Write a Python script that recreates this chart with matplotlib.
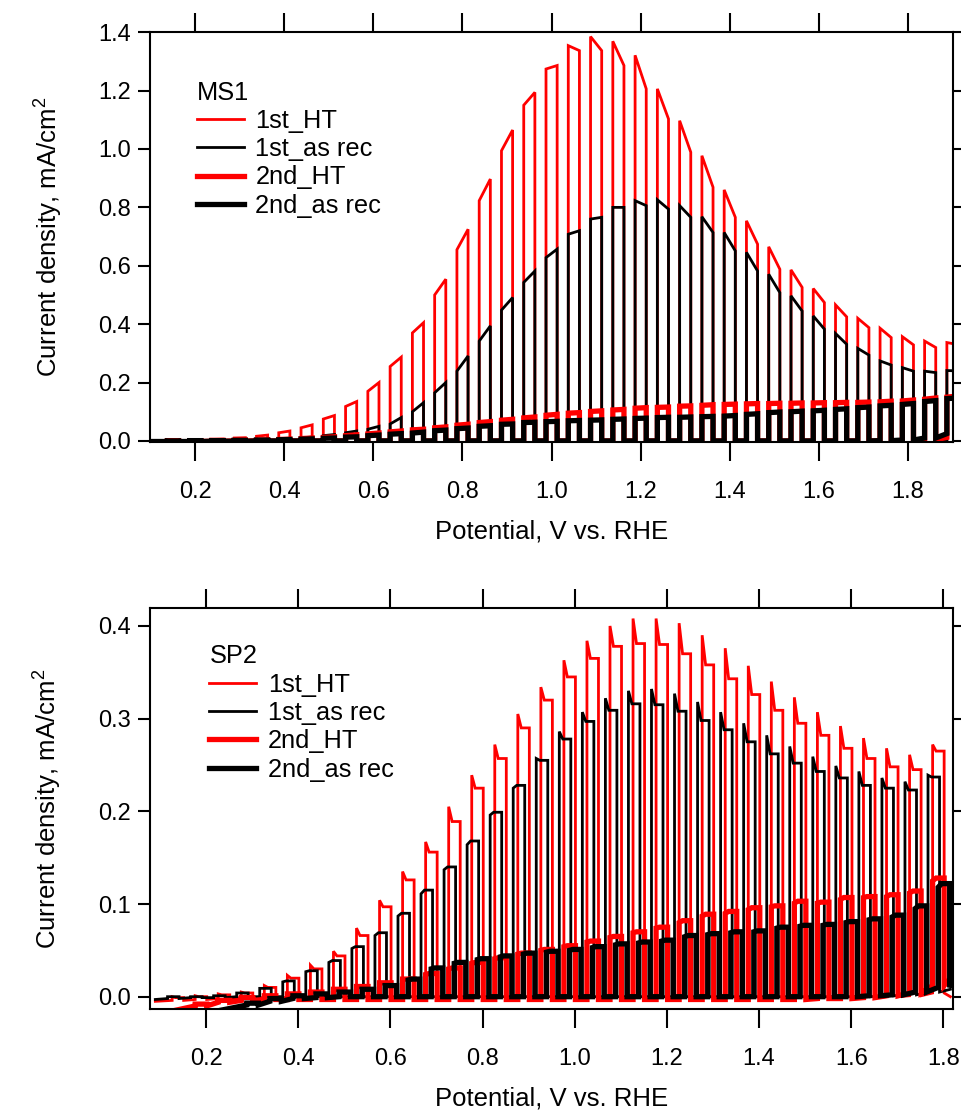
import numpy as np
import matplotlib
matplotlib.use("Agg")
import matplotlib.pyplot as plt

plt.rcParams['font.family'] = ['Liberation Sans', 'DejaVu Sans']
plt.rcParams['mathtext.fontset'] = 'custom'
plt.rcParams['mathtext.rm'] = 'Liberation Sans'
plt.rcParams['mathtext.it'] = 'Liberation Sans'

PERIOD = 0.05   # chopping period (V)
ON = 0.025      # light-on duration (V)

labels = ['1st_HT', '1st_as rec', '2nd_HT', '2nd_as rec']

# ---------------- MS1 (top panel) ----------------
ms1_first_on = [0.1375, 0.1375, 0.1375, 0.1375]
ms1_start = [0.10, 0.10, 0.10, 0.10]
ms1_end = [1.91, 1.91, 1.91, 1.91]

ms1_ht1_top0 = [0.002, 0.003, 0.005, 0.010, 0.016, 0.028, 0.045, 0.075, 0.118, 0.170,
                0.255, 0.370, 0.500, 0.655, 0.823, 0.994, 1.150, 1.274, 1.354, 1.385,
                1.369, 1.321, 1.206, 1.097, 0.977, 0.860, 0.754, 0.665, 0.586, 0.522,
                0.466, 0.420, 0.386, 0.357, 0.342, 0.337]
ms1_ht1_top1 = [0.002, 0.003, 0.006, 0.011, 0.020, 0.034, 0.055, 0.087, 0.135, 0.200,
                0.287, 0.405, 0.554, 0.725, 0.897, 1.065, 1.194, 1.286, 1.337, 1.337,
                1.286, 1.206, 1.103, 0.989, 0.869, 0.766, 0.674, 0.588, 0.526, 0.474,
                0.425, 0.388, 0.354, 0.329, 0.320, 0.330]
ms1_ht1_dark = [-0.002, -0.001, -0.001, 0.0, 0.0, 0.0, 0.0, 0.0, 0.0, 0.0,
                0.0, 0.0, 0.0, 0.0, 0.0, 0.0, 0.0, 0.0, 0.0, 0.0,
                0.0, 0.0, 0.0, 0.0, 0.0, 0.0, 0.0, 0.0, 0.0, 0.0,
                0.0, 0.0, 0.0, 0.0, 0.0, 0.0]

ms1_ar1_top0 = [0.001, 0.001, 0.002, 0.003, 0.004, 0.007, 0.011, 0.018, 0.028, 0.040,
                0.058, 0.100, 0.165, 0.239, 0.342, 0.448, 0.543, 0.628, 0.708, 0.760,
                0.800, 0.823, 0.826, 0.806, 0.768, 0.714, 0.646, 0.571, 0.497, 0.428,
                0.368, 0.317, 0.274, 0.251, 0.239, 0.241]
ms1_ar1_top1 = [0.001, 0.001, 0.002, 0.003, 0.005, 0.008, 0.013, 0.022, 0.034, 0.050,
                0.080, 0.131, 0.200, 0.291, 0.394, 0.491, 0.582, 0.657, 0.720, 0.766,
                0.800, 0.806, 0.794, 0.766, 0.714, 0.651, 0.582, 0.508, 0.445, 0.383,
                0.331, 0.294, 0.260, 0.239, 0.234, 0.240]
ms1_ar1_dark = [-0.002, -0.002, -0.001, -0.001, 0.0, 0.0, 0.0, 0.0, 0.0, 0.0,
                0.0, 0.0, 0.0, 0.0, 0.0, 0.0, 0.0, 0.0, 0.0, 0.0,
                0.0, 0.0, 0.0, 0.0, 0.0, 0.0, 0.0, 0.0, 0.0, 0.0,
                0.0, 0.0, 0.0, 0.0, 0.001, 0.002]

ms1_ht2_top0 = [0.001, 0.001, 0.002, 0.002, 0.003, 0.005, 0.008, 0.012, 0.018, 0.024,
                0.031, 0.038, 0.045, 0.054, 0.063, 0.071, 0.079, 0.088, 0.095, 0.101,
                0.106, 0.112, 0.115, 0.119, 0.122, 0.125, 0.127, 0.128, 0.129, 0.130,
                0.131, 0.132, 0.134, 0.137, 0.143, 0.150]
ms1_ht2_top1 = [0.001, 0.001, 0.002, 0.003, 0.004, 0.006, 0.010, 0.014, 0.021, 0.027,
                0.034, 0.040, 0.048, 0.057, 0.066, 0.074, 0.082, 0.091, 0.097, 0.103,
                0.108, 0.114, 0.116, 0.120, 0.124, 0.126, 0.128, 0.129, 0.130, 0.131,
                0.132, 0.133, 0.136, 0.140, 0.147, 0.154]
ms1_ht2_dark = [-0.003, -0.002, -0.001, 0.0, 0.0, 0.0, 0.0, 0.0, 0.0, 0.0,
                0.0, 0.0, 0.0, 0.0, 0.0, 0.0, 0.0, 0.0, 0.0, 0.0,
                0.0, 0.0, 0.0, 0.0, 0.0, 0.0, 0.0, 0.0, 0.0, 0.0,
                0.0, 0.0, 0.0, 0.001, 0.004, 0.012]

ms1_ar2_top0 = [0.000, 0.001, 0.001, 0.002, 0.003, 0.004, 0.006, 0.009, 0.013, 0.018,
                0.023, 0.027, 0.035, 0.042, 0.050, 0.057, 0.063, 0.066, 0.069, 0.071,
                0.074, 0.077, 0.080, 0.081, 0.083, 0.085, 0.091, 0.097, 0.100, 0.103,
                0.108, 0.114, 0.120, 0.125, 0.135, 0.145]
ms1_ar2_top1 = [0.000, 0.001, 0.001, 0.002, 0.003, 0.005, 0.007, 0.010, 0.014, 0.020,
                0.025, 0.030, 0.037, 0.044, 0.052, 0.058, 0.064, 0.067, 0.070, 0.072,
                0.075, 0.078, 0.081, 0.082, 0.084, 0.087, 0.093, 0.099, 0.102, 0.105,
                0.110, 0.116, 0.122, 0.128, 0.138, 0.147]
ms1_ar2_dark = [-0.002, -0.002, -0.001, -0.001, 0.0, 0.0, 0.0, 0.0, 0.0, 0.0,
                0.0, 0.0, 0.0, 0.0, 0.0, 0.0, 0.0, 0.0, 0.0, 0.0,
                0.0, 0.0, 0.0, 0.0, 0.0, 0.0, 0.0, 0.0, 0.0, 0.0,
                0.0, 0.0, 0.001, 0.003, 0.010, 0.025]

# ---------------- SP2 (bottom panel) ----------------
sp2_first_on = [0.1265, 0.1165, 0.1765, 0.2885]
sp2_start = [0.09, 0.09, 0.136, 0.234]
sp2_end = [1.815, 1.815, 1.825, 1.825]

sp2_ht1_top0 = [0.000, 0.001, 0.003, 0.005, 0.012, 0.023, 0.034, 0.049, 0.074, 0.104,
                0.135, 0.167, 0.205, 0.239, 0.272, 0.305, 0.334, 0.363, 0.384, 0.400,
                0.408, 0.408, 0.403, 0.390, 0.376, 0.357, 0.340, 0.323, 0.307, 0.292,
                0.279, 0.268, 0.261, 0.272]
sp2_ht1_top1 = [-0.001, 0.000, 0.002, 0.004, 0.010, 0.020, 0.030, 0.044, 0.066, 0.097,
                0.126, 0.156, 0.189, 0.225, 0.257, 0.290, 0.320, 0.345, 0.365, 0.378,
                0.381, 0.380, 0.370, 0.358, 0.343, 0.326, 0.309, 0.295, 0.282, 0.268,
                0.257, 0.248, 0.245, 0.265]
sp2_ht1_dark = [-0.004, -0.003, -0.002, -0.001, -0.001, -0.001, -0.001, -0.001, -0.001, -0.001,
                -0.001, -0.001, -0.001, -0.001, -0.001, -0.001, -0.001, -0.001, -0.001, -0.001,
                -0.001, -0.001, -0.001, -0.001, -0.001, -0.001, -0.001, -0.001, -0.001, -0.001,
                -0.001, 0.000, 0.001, 0.004]

sp2_ar1_top0 = [0.000, 0.000, 0.001, 0.004, 0.009, 0.016, 0.027, 0.037, 0.052, 0.066,
                0.087, 0.111, 0.137, 0.164, 0.196, 0.225, 0.257, 0.286, 0.307, 0.322,
                0.330, 0.332, 0.327, 0.318, 0.307, 0.295, 0.282, 0.270, 0.259, 0.249,
                0.243, 0.236, 0.232, 0.239]
sp2_ar1_top1 = [0.000, 0.000, 0.001, 0.004, 0.009, 0.017, 0.028, 0.039, 0.054, 0.069,
                0.090, 0.115, 0.140, 0.168, 0.199, 0.228, 0.255, 0.278, 0.297, 0.309,
                0.316, 0.315, 0.308, 0.298, 0.288, 0.275, 0.262, 0.252, 0.243, 0.236,
                0.228, 0.225, 0.223, 0.237]
sp2_ar1_dark = [-0.002, -0.001, -0.001, 0.000, 0.000, 0.000, 0.000, 0.000, 0.000, 0.000,
                0.000, 0.000, 0.000, 0.000, 0.000, 0.000, 0.000, 0.000, 0.000, 0.000,
                0.000, 0.000, 0.000, 0.000, 0.000, 0.000, 0.000, 0.000, 0.000, 0.000,
                0.000, 0.001, 0.002, 0.005]

sp2_ht2_top0 = [-0.008, -0.004, -0.001, 0.001, 0.003, 0.005, 0.008, 0.011, 0.015, 0.019,
                0.024, 0.030, 0.036, 0.041, 0.046, 0.050, 0.054, 0.059, 0.064, 0.069,
                0.074, 0.080, 0.087, 0.090, 0.094, 0.097, 0.101, 0.101, 0.105, 0.107,
                0.108, 0.112, 0.125]
sp2_ht2_top1 = [-0.008, -0.004, -0.001, 0.001, 0.003, 0.005, 0.008, 0.011, 0.015, 0.019,
                0.025, 0.031, 0.037, 0.042, 0.047, 0.051, 0.055, 0.060, 0.065, 0.070,
                0.075, 0.082, 0.089, 0.092, 0.096, 0.098, 0.103, 0.102, 0.107, 0.108,
                0.110, 0.114, 0.128]
sp2_ht2_dark = [-0.010, -0.006, -0.004, -0.003, -0.003, -0.003, -0.003, -0.003, -0.003, -0.003,
                -0.003, -0.003, -0.003, -0.003, -0.003, -0.003, -0.003, -0.003, -0.003, -0.003,
                -0.003, -0.003, -0.003, -0.003, -0.003, -0.003, -0.003, -0.002, -0.002, -0.001,
                0.001, 0.004, 0.012]

sp2_ar2_top0 = [-0.007, -0.002, 0.001, 0.003, 0.005, 0.008, 0.012, 0.018, 0.030, 0.036,
                0.040, 0.043, 0.046, 0.048, 0.050, 0.053, 0.056, 0.058, 0.060, 0.0647,
                0.067, 0.069, 0.070, 0.074, 0.076, 0.077, 0.080, 0.083, 0.086, 0.095,
                0.118]
sp2_ar2_top1 = [-0.007, -0.002, 0.001, 0.003, 0.005, 0.008, 0.012, 0.019, 0.031, 0.037,
                0.041, 0.044, 0.047, 0.049, 0.051, 0.054, 0.057, 0.059, 0.061, 0.066,
                0.068, 0.070, 0.071, 0.075, 0.077, 0.078, 0.081, 0.084, 0.088, 0.098,
                0.122]
sp2_ar2_dark = [-0.009, -0.005, -0.002, -0.001, 0.000, 0.000, 0.000, 0.000, 0.000, 0.000,
                0.000, 0.000, 0.000, 0.000, 0.000, 0.000, 0.000, 0.000, 0.000, 0.000,
                0.000, 0.000, 0.000, 0.000, 0.000, 0.000, 0.000, 0.001, 0.002, 0.005,
                0.010]

ms1_start_dark = [-0.002, -0.002, -0.003, -0.002]
ms1_end_dark = [0.0, 0.003, 0.015, 0.03]
sp2_start_dark = [-0.005, -0.003, -0.0144, -0.0144]
sp2_end_dark = [0.0, 0.008, 0.025, 0.025]

colors = ['#ff0000', '#000000', '#ff0000', '#000000']
widths = [2.0, 2.0, 3.8, 3.8]


def chopped(x0, x1, first_on, top0, top1, dark, d0, d1, frac):
    xs = [x0]
    ys = [d0]
    for k in range(len(top0)):
        on = first_on + PERIOD * k
        off = on + ON
        xs += [on, on, on + ON * frac, off, off]
        ys += [dark[k], top0[k], top1[k], top1[k], dark[k]]
    xs.append(x1)
    ys.append(d1)
    return np.array(xs), np.array(ys)


fig = plt.figure(figsize=(9.62, 11.15), dpi=100)
ax1 = fig.add_axes([0.1562, 0.6039, 0.8341, 0.3672])
ax2 = fig.add_axes([0.1559, 0.0948, 0.8344, 0.3596])

panels = [
    (ax1, 'MS1', ms1_first_on, ms1_start, ms1_end, ms1_start_dark, ms1_end_dark,
     [(ms1_ht1_top0, ms1_ht1_top1, ms1_ht1_dark), (ms1_ar1_top0, ms1_ar1_top1, ms1_ar1_dark),
      (ms1_ht2_top0, ms1_ht2_top1, ms1_ht2_dark), (ms1_ar2_top0, ms1_ar2_top1, ms1_ar2_dark)], 1.0),
    (ax2, 'SP2', sp2_first_on, sp2_start, sp2_end, sp2_start_dark, sp2_end_dark,
     [(sp2_ht1_top0, sp2_ht1_top1, sp2_ht1_dark), (sp2_ar1_top0, sp2_ar1_top1, sp2_ar1_dark),
      (sp2_ht2_top0, sp2_ht2_top1, sp2_ht2_dark), (sp2_ar2_top0, sp2_ar2_top1, sp2_ar2_dark)], 0.3),
]

FS_TICK = 17
FS_LEG = 18.3
FS_LAB = 18.5
for ax, title, first_on, starts, ends, d0s, d1s, series, frac in panels:
    handles = []
    for i, (t0, t1, dk) in enumerate(series):
        x, y = chopped(starts[i], ends[i], first_on[i], t0, t1, dk, d0s[i], d1s[i], frac)
        h, = ax.plot(x, y, color=colors[i], lw=widths[i], solid_joinstyle='miter',
                     label=labels[i])
        handles.append(h)
    ax.legend(handles=handles, title=title, loc='upper left',
              bbox_to_anchor=(0.058, 0.882) if title == 'MS1' else (0.074, 0.910),
              frameon=False, fontsize=FS_LEG, title_fontsize=FS_LEG, alignment='left',
              handlelength=1.85, handletextpad=0.45, labelspacing=0.17,
              borderpad=0.0, borderaxespad=0.0)
    for s in ax.spines.values():
        s.set_linewidth(1.5)
    ax.tick_params(axis='x', which='major', direction='out', length=14, width=1.5,
                   top=True, bottom=True, labeltop=False, labelsize=FS_TICK, pad=14)
    ax.tick_params(axis='y', which='major', direction='out', length=9, width=1.5,
                   left=True, right=True, labelright=False, labelsize=FS_TICK, pad=5)
    ax.set_xticks([0.2, 0.4, 0.6, 0.8, 1.0, 1.2, 1.4, 1.6, 1.8])
    ax.set_xticklabels(['0.2', '0.4', '0.6', '0.8', '1.0', '1.2', '1.4', '1.6', '1.8'])
    ax.set_xlabel('Potential, V vs. RHE', fontsize=FS_LAB, labelpad=12)
    ax.set_ylabel('Current density, mA/cm$^2$', fontsize=FS_LAB, labelpad=24)

ax1.set_xlim(0.099, 1.9005)
ax1.set_ylim(-0.0025, 1.4)
ax1.set_yticks([0.0, 0.2, 0.4, 0.6, 0.8, 1.0, 1.2, 1.4])
ax1.set_yticklabels(['0.0', '0.2', '0.4', '0.6', '0.8', '1.0', '1.2', '1.4'])

ax2.set_xlim(0.0784, 1.820)
ax2.set_ylim(-0.0136, 0.419)
ax2.set_yticks([0.0, 0.1, 0.2, 0.3, 0.4])
ax2.set_yticklabels(['0.0', '0.1', '0.2', '0.3', '0.4'])

fig.savefig('out.png', dpi=100)
